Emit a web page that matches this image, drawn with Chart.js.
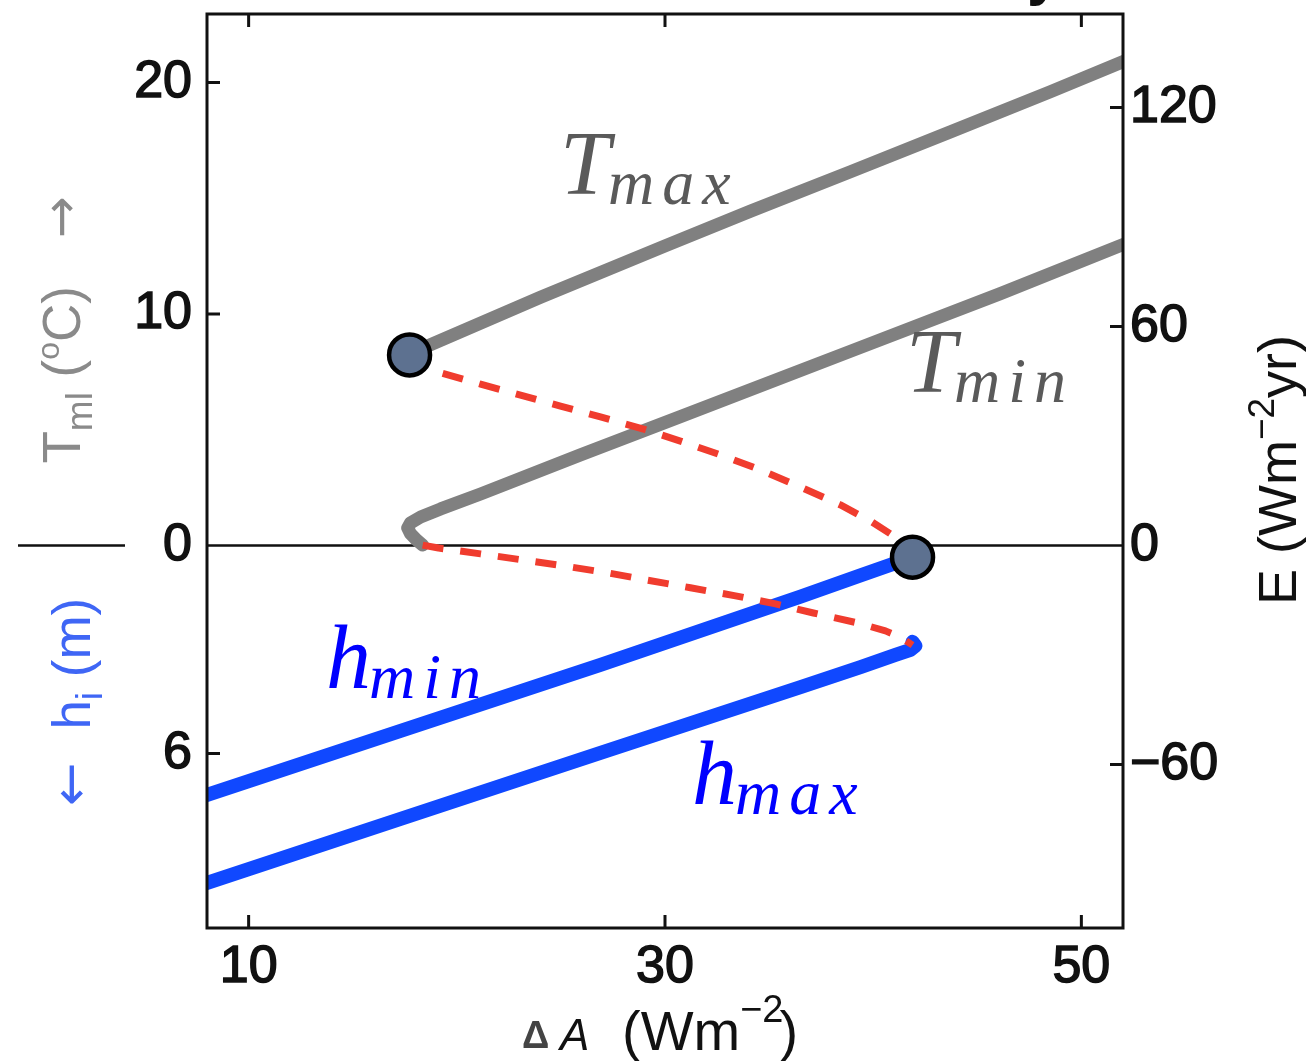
<!DOCTYPE html>
<html>
<head>
<meta charset="utf-8">
<script src="https://cdn.jsdelivr.net/npm/chart.js@4.4.1/dist/chart.umd.min.js"></script>
<style>
  html, body { margin: 0; padding: 0; background: #fff; }
  #wrap { width: 1306px; height: 1061px; }
</style>
</head>
<body>
<div id="wrap"><canvas id="foldChart" width="1306" height="1061"></canvas></div>
<script>
// forcing dA (W m^-2) on x, energy E (W m^-2 yr) on y
const C_ML = 6.34;  // E per degC of mixed-layer temperature
const L_I = 9.5;    // E per m of ice thickness

const xTicks = [10, 30, 50];
const eTicks = [-60, 0, 60, 120];
const tTicks = [20, 10, 0];
const hTicks = [6];

// warm branch, summer maximum
const tMaxA = [17.73, 24.02, 30.02, 34.11, 38.91, 43.71, 48.51, 52.07];
const tMaxE = [52.5, 68.0, 82.1, 91.6, 102.4, 113.3, 124.3, 132.7];

// warm branch, winter minimum (folds back near the ice edge)
const tMinA = [52.07, 46.11, 38.91, 30.74, 25.94, 21.14, 19.22, 18.26, 17.78, 17.64, 17.78, 18.07, 18.36];
const tMinE = [82.6, 69.0, 53.2, 35.3, 24.8, 14.1, 10.0, 7.8, 6.2, 4.8, 3.2, 1.5, 0.1];

// ice branch, thinnest ice
const hMinA = [7.98, 17.30, 26.90, 36.51, 39.39, 41.89];
const hMinE = [-68.4, -50.8, -32.7, -14.0, -8.2, -3.2];

// ice branch, thickest ice
const hMaxA = [7.98, 17.30, 26.90, 36.51, 39.39, 41.07, 41.79, 42.03, 41.89];
const hMaxE = [-92.5, -74.9, -56.8, -38.8, -33.3, -30.0, -28.6, -27.5, -26.4];

// unstable solutions
const unstMaxA = [17.73, 19.12, 21.14, 23.06, 24.98, 26.90, 28.97, 30.74, 32.67, 34.59, 36.51, 38.43, 39.87, 41.07, 41.89];
const unstMaxE = [52.2, 47.5, 44.2, 41.2, 38.2, 35.2, 31.9, 28.6, 24.8, 20.7, 16.0, 11.1, 6.7, 2.3, -3.2];
const unstMinA = [18.36, 19.12, 21.14, 23.21, 25.13, 27.24, 29.16, 31.22, 33.39, 35.31, 37.13, 39.24, 40.59, 41.31, 41.89];
const unstMinE = [0.1, -0.7, -2.3, -4.0, -5.6, -7.5, -9.5, -11.6, -13.8, -16.0, -18.5, -21.2, -23.4, -25.1, -27.3];

// saddle-node bifurcation points
const foldA = [17.73, 41.89];
const foldE = [52.2, -3.2];

const pts = (xs, ys) => xs.map((x, i) => ({ x: x, y: ys[i] }));

const leftValues = tTicks.map(t => t * C_ML).concat(hTicks.map(h => -h * L_I));
const leftLabels = tTicks.map(String).concat(hTicks.map(String));

const SANS = '"Liberation Sans", Arial, sans-serif';
const ARROW = '"DejaVu Sans", sans-serif';
const SERIF = '"Liberation Serif", "Times New Roman", serif';

function line(data, color, width, extra) {
  return Object.assign({
    type: 'scatter', data: data, showLine: true, yAxisID: 'yE',
    borderColor: color, borderWidth: width, pointRadius: 0,
    borderCapStyle: 'round', borderJoinStyle: 'round', clip: 0, fill: false
  }, extra || {});
}

// draws a run of text pieces one after another, returns total width
function runs(ctx, x, y, parts, measureOnly) {
  let cx = x;
  parts.forEach(p => {
    ctx.font = p[1];
    if (!measureOnly) {
      ctx.fillStyle = p[3];
      ctx.fillText(p[0], cx, y + (p[2] || 0));
    }
    cx += ctx.measureText(p[0]).width;
  });
  return cx - x;
}

function rotatedTitle(ctx, x, y, parts) {
  ctx.save();
  ctx.translate(x, y);
  ctx.rotate(-Math.PI / 2);
  const w = runs(ctx, 0, 0, parts, true);
  runs(ctx, -w / 2, 0, parts);
  ctx.restore();
}

function mathLabel(ctx, x, y, base, sub, color) {
  ctx.save();
  ctx.fillStyle = color;
  ctx.font = 'italic 90px ' + SERIF;
  ctx.fillText(base, x, y);
  const w = ctx.measureText(base).width;
  ctx.font = 'italic 64px ' + SERIF;
  ctx.letterSpacing = '8px';
  ctx.fillText(sub, x + w - 2, y + 10);
  ctx.restore();
}

const decor = {
  id: 'decor',
  beforeDatasetsDraw(chart) {
    const { ctx, chartArea: a, scales } = chart;
    const y0 = scales.yE.getPixelForValue(0);
    ctx.save();
    ctx.strokeStyle = '#111';
    ctx.lineWidth = 2.5;
    ctx.beginPath();
    ctx.moveTo(a.left, y0); ctx.lineTo(a.right, y0);
    ctx.moveTo(18, y0); ctx.lineTo(125, y0);
    ctx.stroke();
    ctx.restore();
  },
  afterDatasetsDraw(chart) {
    const { ctx, chartArea: a, scales } = chart;
    const tl = 13;
    ctx.save();
    ctx.strokeStyle = '#111';
    ctx.lineWidth = 3;
    ctx.strokeRect(a.left, a.top, a.right - a.left, a.bottom - a.top);
    ctx.beginPath();
    xTicks.forEach(v => {
      const px = scales.x.getPixelForValue(v);
      ctx.moveTo(px, a.bottom); ctx.lineTo(px, a.bottom - tl);
      ctx.moveTo(px, a.top); ctx.lineTo(px, a.top + tl);
    });
    leftValues.forEach(v => {
      if (v === 0) return;
      const py = scales.yL.getPixelForValue(v);
      ctx.moveTo(a.left, py); ctx.lineTo(a.left + tl, py);
    });
    eTicks.forEach(v => {
      if (v === 0) return;
      const py = scales.yE.getPixelForValue(v);
      ctx.moveTo(a.right, py); ctx.lineTo(a.right - tl, py);
    });
    ctx.stroke();
    ctx.restore();
  },
  afterDraw(chart) {
    const ctx = chart.ctx;
    ctx.save();
    ctx.textBaseline = 'alphabetic';

    // axis titles
    const f = '53px ' + SANS;
    const fs = '37px ' + SANS;
    const gray = '#8a8a8a', blue = '#3f66f5', ink = '#111';
    rotatedTitle(ctx, 80, 330, [
      ['T', f, 0, gray], ['ml', fs, 12, gray], [' (', f, 0, gray],
      ['o', '32px ' + SANS, -21, gray], ['C)', f, 0, gray], ['   \u2192', '50px ' + ARROW, -2, gray]
    ]);
    rotatedTitle(ctx, 90, 702, [
      ['\u2190  ', '52px ' + ARROW, -2, blue], ['h', f, 0, blue], ['i', fs, 12, blue], [' (m)', f, 0, blue]
    ]);
    rotatedTitle(ctx, 1296, 470, [
      ['E (Wm', '54px ' + SANS, 0, ink], ['\u22122', fs, -22, ink], ['yr)', '54px ' + SANS, 0, ink]
    ]);

    // x title
    ctx.fillStyle = '#444';
    ctx.font = 'bold 38px ' + SANS;
    ctx.fillText('\u0394', 522, 1048);
    ctx.fillStyle = ink;
    ctx.font = 'italic 44px ' + SANS;
    ctx.fillText('A', 560, 1050);
    ctx.font = '56px ' + SANS;
    ctx.fillText('(Wm', 622, 1050);
    let cx = 622 + ctx.measureText('(Wm').width;
    ctx.font = '38px ' + SANS;
    ctx.fillText('\u22122', cx, 1022);
    cx += ctx.measureText('\u22122').width;
    ctx.font = '56px ' + SANS;
    ctx.fillText(')', cx - 4, 1050);

    // cut-off heading above the frame
    ctx.font = 'bold 60px ' + SANS;
    ctx.fillText('y', 1027, -6);

    // curve labels
    mathLabel(ctx, 560, 194, 'T', 'max', '#5a5a5a');
    mathLabel(ctx, 906, 392, 'T', 'min', '#5a5a5a');
    mathLabel(ctx, 326, 688, 'h', 'min', '#0000ff');
    mathLabel(ctx, 692, 804, 'h', 'max', '#0000ff');
    ctx.restore();
  }
};

const tickFont = { family: SANS, size: 52 };

new Chart(document.getElementById('foldChart'), {
  type: 'scatter',
  data: {
    datasets: [
      {
        type: 'scatter', data: pts(foldA, foldE), yAxisID: 'yE', order: 0,
        pointRadius: 20.5, pointBorderWidth: 4.5, pointBackgroundColor: '#5d7190',
        pointBorderColor: '#000', clip: false
      },
      line(pts(unstMaxA, unstMaxE), '#f03c2e', 7, { borderDash: [21, 17], borderCapStyle: 'butt', order: 1 }),
      line(pts(unstMinA, unstMinE), '#f03c2e', 7, { borderDash: [21, 17], borderCapStyle: 'butt', order: 1 }),
      line(pts(hMinA, hMinE), '#1048ff', 14, { order: 2 }),
      line(pts(hMaxA, hMaxE), '#1048ff', 14, { order: 2 }),
      line(pts(tMaxA, tMaxE), '#808080', 13, { order: 3 }),
      line(pts(tMinA, tMinE), '#808080', 13, { order: 3 })
    ]
  },
  options: {
    responsive: false,
    animation: false,
    events: [],
    layout: { autoPadding: false, padding: { top: 14, left: 0, right: 0, bottom: 0 } },
    plugins: { legend: { display: false }, tooltip: { enabled: false } },
    scales: {
      x: {
        type: 'linear', position: 'bottom', min: 8, max: 52,
        grid: { display: false, drawTicks: false }, border: { display: false },
        afterBuildTicks: s => { s.ticks = xTicks.map(v => ({ value: v })); },
        afterFit: s => { s.height = 133; s.paddingLeft = 0; s.paddingRight = 0; },
        ticks: { font: tickFont, color: '#111', padding: 8, maxRotation: 0, autoSkip: false,
          textStrokeColor: '#111', textStrokeWidth: 1.5 }
      },
      yL: {
        type: 'linear', position: 'left', min: -104.8, max: 145.6,
        grid: { display: false, drawTicks: false }, border: { display: false },
        afterBuildTicks: s => { s.ticks = leftValues.map(v => ({ value: v })); },
        afterFit: s => { s.width = 207; s.paddingTop = 0; s.paddingBottom = 0; },
        ticks: { font: tickFont, color: '#111', padding: 15, autoSkip: false,
          textStrokeColor: '#111', textStrokeWidth: 1.5,
          callback: (v, i) => leftLabels[i] }
      },
      yE: {
        type: 'linear', position: 'right', min: -104.8, max: 145.6,
        grid: { display: false, drawTicks: false }, border: { display: false },
        afterBuildTicks: s => { s.ticks = eTicks.map(v => ({ value: v })); },
        afterFit: s => { s.width = 183; s.paddingTop = 0; s.paddingBottom = 0; },
        ticks: { font: tickFont, color: '#111', padding: 7, autoSkip: false,
          textStrokeColor: '#111', textStrokeWidth: 1.5,
          callback: v => v < 0 ? '\u2212' + (-v) : String(v) }
      }
    }
  },
  plugins: [decor]
});
</script>
</body>
</html>
